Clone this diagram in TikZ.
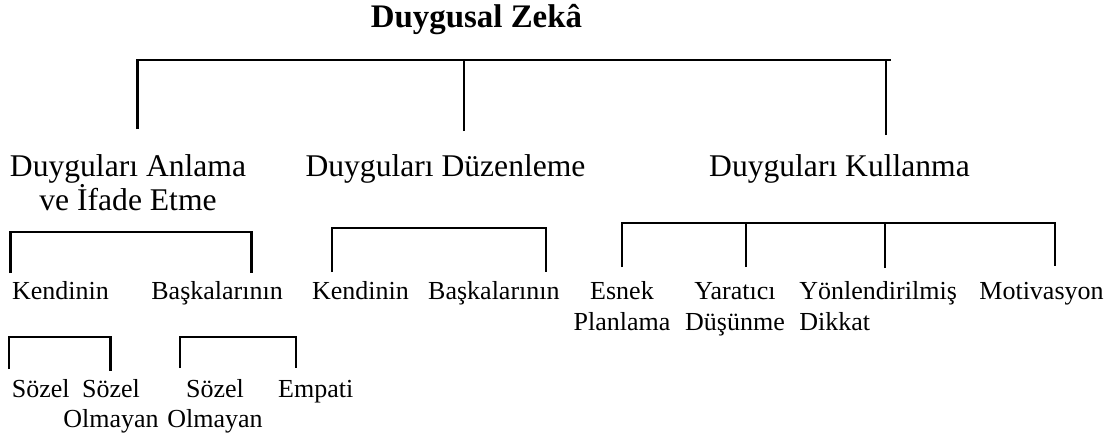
\documentclass[tikz,border=0pt]{standalone}
\usepackage{fontspec}
\setmainfont{Liberation Serif}

\begin{document}
\begin{tikzpicture}[x=1pt,y=-1pt,line width=2.8pt,
  title node/.style={inner sep=0,anchor=base,font=\fontsize{32.9}{38}\selectfont\bfseries},
  main node/.style={inner sep=0,anchor=base,align=center,font=\fontsize{31.6}{34}\selectfont},
  sub node/.style={inner sep=0,anchor=base,align=center,font=\fontsize{26}{31}\selectfont},
  leaf node/.style={inner sep=0,anchor=base,align=center,font=\fontsize{26}{30}\selectfont}]
  \useasboundingbox (0,0) rectangle (1115,441);

  % texts (base = last line)
  \node[title node] (dz) at (476.5,28) {Duygusal Zekâ};
  \node[main node] (an) at (128,210) {Duyguları Anlama\\ve İfade Etme};
  \node[main node] (du) at (445.5,176) {Duyguları Düzenleme};
  \node[main node] (ku) at (839.5,176) {Duyguları Kullanma};

  \node[sub node,anchor=base west] (ak) at (10.7,299) {Kendinin};
  \node[sub node,anchor=base west] (ab) at (150,299) {Başkalarının};
  \node[sub node,anchor=base west] (dk) at (310.7,299) {Kendinin};
  \node[sub node,anchor=base west] (db) at (426.8,299) {Başkalarının};
  \node[sub node] (ke) at (622,330) {Esnek\\Planlama};
  \node[sub node] (ky) at (735,330) {Yaratıcı\\Düşünme};
  \node[sub node,anchor=base west,align=left] (kd) at (798,330) {Yönlendirilmiş\\Dikkat};
  \node[sub node,anchor=base west] (km) at (978,299) {Motivasyon};

  \node[leaf node,anchor=base west] (s1) at (10.5,397) {Sözel};
  \node[leaf node] (s2) at (111,427) {Sözel\\Olmayan};
  \node[leaf node] (s3) at (215,427) {Sözel\\Olmayan};
  \node[leaf node,anchor=base west] (s4) at (276.8,397) {Empati};

  % bracket ends
  \coordinate (t0) at (891,60);
  \coordinate (t1) at (137.5,129);
  \coordinate (t2) at (464,131);
  \coordinate (t3) at (886,135);

  \coordinate (a1) at (10.7,273);
  \coordinate (a2) at (251.8,273);
  \coordinate (d1) at (332,272);
  \coordinate (d2) at (546,272);
  \coordinate (k0) at (622,223);
  \coordinate (k1) at (622,267);
  \coordinate (k2) at (746,267);
  \coordinate (k3) at (885,268);
  \coordinate (k4) at (1055,266);

  \coordinate (v1) at (9,369);
  \coordinate (v2) at (110.7,371);
  \coordinate (v3) at (180,368);
  \coordinate (v4) at (296,368);

  % brackets
  \draw (t1) |- (t0);
  \draw (t2) -- (t2 |- t0);
  \draw (t3) -- (t3 |- t0);

  \draw (a1) -- ++(0,-41) -| (a2);
  \draw (d1) -- ++(0,-44) -| (d2);
  \draw (k1) |- (k0) -| (k4);
  \draw (k2) -- (k2 |- k0);
  \draw (k3) -- (k3 |- k0);

  \draw (v1) -- ++(0,-32) -| (v2);
  \draw (v3) -- ++(0,-31) -| (v4);
\end{tikzpicture}
\end{document}
